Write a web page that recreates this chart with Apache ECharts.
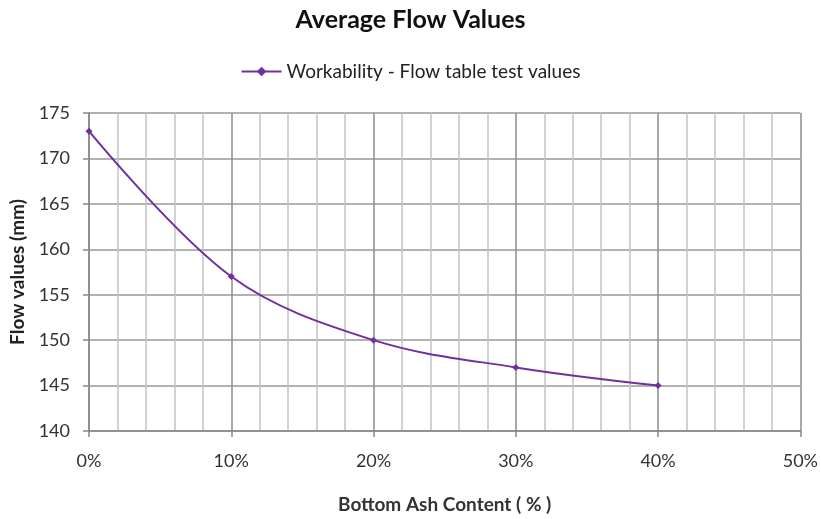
<!DOCTYPE html>
<html>
<head>
<meta charset="utf-8">
<script src="https://cdn.jsdelivr.net/npm/echarts@6/dist/echarts.min.js"></script>
<style>
  html, body { margin: 0; padding: 0; background: #fff; }
  #chart { width: 821px; height: 519px; }
</style>
</head>
<body>
<div id="chart"></div>
<script>
// Bottom ash content (%) and the measured flow table values (mm)
const ashContent = [0, 10, 20, 30, 40];
const flowValues = [173, 157, 150, 147, 145];
const seriesName = 'Workability - Flow table test values';
const xTickLabels = ['0%', '10%', '20%', '30%', '40%', '50%'];

const FONT = 'Lato, "Open Sans", sans-serif';
const PURPLE = '#7030A0';

const chart = echarts.init(document.getElementById('chart'), null, { renderer: 'canvas' });

chart.setOption({
  animation: false,
  backgroundColor: '#ffffff',
  title: {
    text: 'Average Flow Values',
    left: 'center',
    top: 2,
    textStyle: { fontFamily: FONT, fontWeight: 'bold', fontSize: 25, color: '#111' }
  },
  legend: {
    top: 57,
    left: 'center',
    itemWidth: 40,
    itemHeight: 12,
    itemGap: 4,
    textStyle: { fontFamily: FONT, fontSize: 19, color: '#222' },
    data: [seriesName]
  },
  grid: { left: 89, right: 18, top: 113, bottom: 83, containLabel: false },
  xAxis: {
    type: 'value',
    min: 0,
    max: 50,
    interval: 10,
    name: 'Bottom Ash Content ( % )',
    nameLocation: 'middle',
    nameGap: 64,
    nameTextStyle: { fontFamily: FONT, fontWeight: 'bold', fontSize: 19, color: '#333' },
    axisLine: { show: true, lineStyle: { color: '#888', width: 1.5 } },
    axisTick: { show: true, length: 6, lineStyle: { color: '#888', width: 1.5 } },
    axisLabel: {
      margin: 21,
      fontFamily: FONT, fontSize: 18, color: '#333',
      formatter: (v) => xTickLabels[Math.round(v / 10)]
    },
    splitLine: { show: true, lineStyle: { color: '#8c8c8c', width: 1.5 } },
    minorTick: { show: false, splitNumber: 5 },
    minorSplitLine: { show: true, lineStyle: { color: '#c4c4c4', width: 1.5 } }
  },
  yAxis: {
    type: 'value',
    min: 140,
    max: 175,
    interval: 5,
    name: 'Flow values (mm)',
    nameLocation: 'middle',
    nameGap: 59,
    nameTextStyle: { fontFamily: FONT, fontWeight: 'bold', fontSize: 19, color: '#222' },
    axisLine: { show: true, lineStyle: { color: '#888', width: 1.5 } },
    axisTick: { show: true, length: 6, lineStyle: { color: '#888', width: 1.5 } },
    axisLabel: { margin: 19, fontFamily: FONT, fontSize: 18, color: '#333' },
    splitLine: { show: true, lineStyle: { color: '#999', width: 1.5 } }
  },
  series: [{
    name: seriesName,
    type: 'line',
    smooth: 0.35,
    data: ashContent.map((x, i) => [x, flowValues[i]]),
    symbol: 'diamond',
    symbolSize: 7,
    itemStyle: { color: PURPLE },
    lineStyle: { color: PURPLE, width: 2 }
  }]
});
</script>
</body>
</html>
